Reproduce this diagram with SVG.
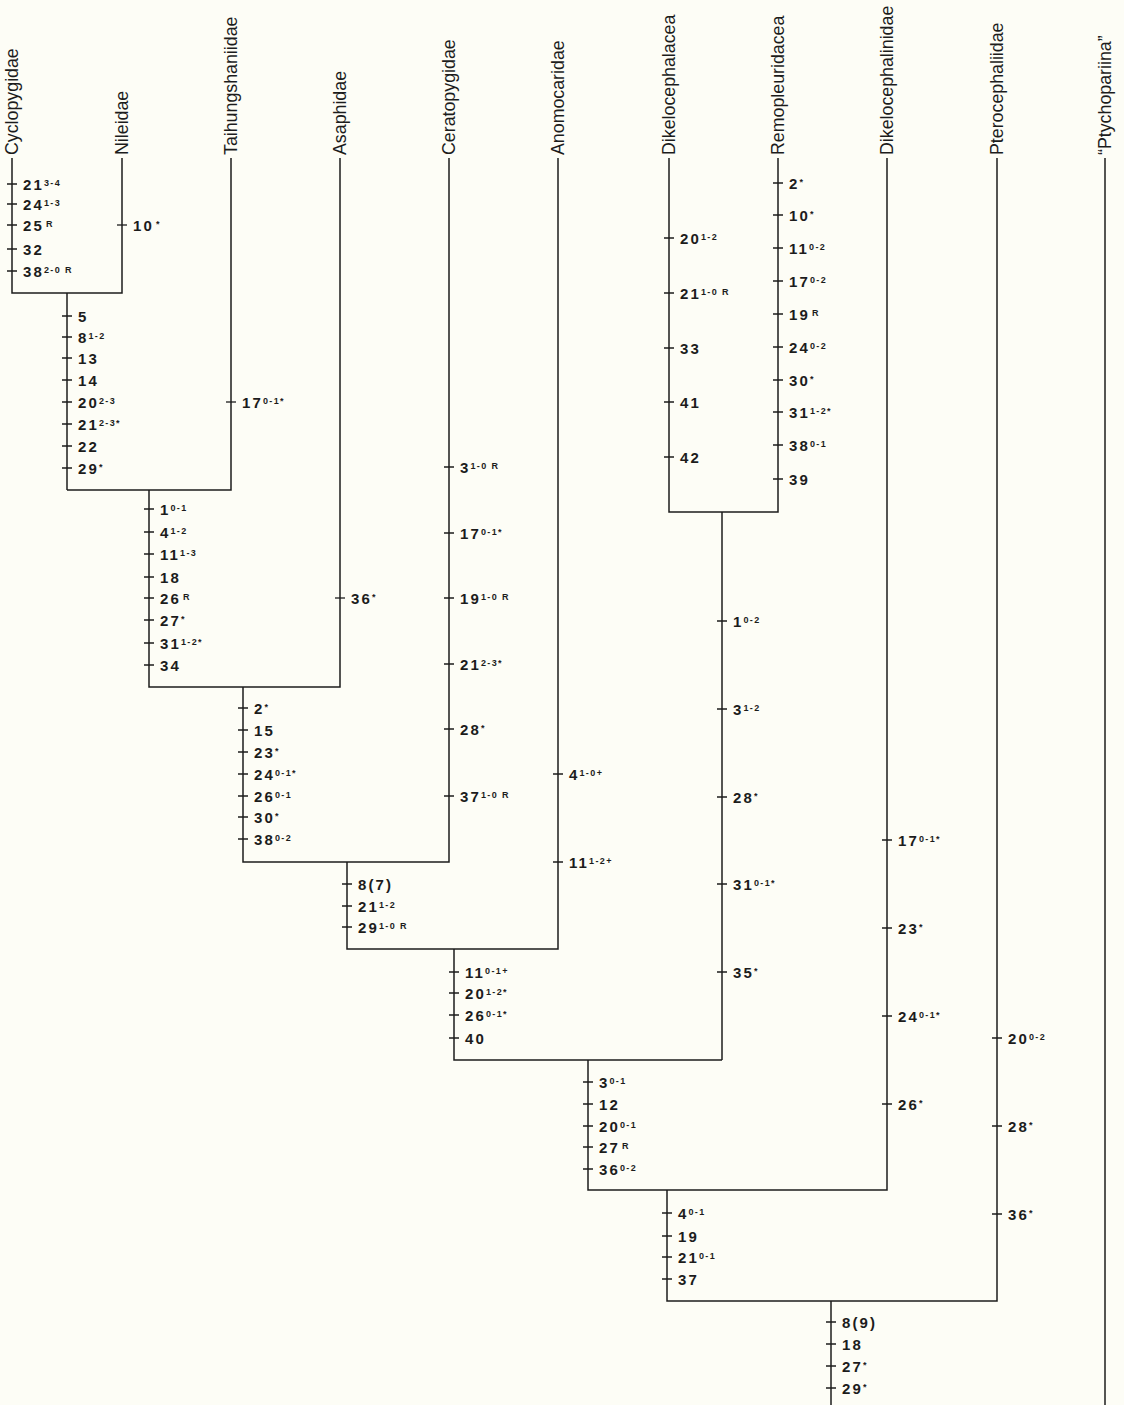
<svg xmlns="http://www.w3.org/2000/svg" width="1124" height="1405" viewBox="0 0 1124 1405">
<style>
.ln{stroke:#1c1c1c;stroke-width:1.5;fill:none}
.tk{stroke:#1c1c1c;stroke-width:1.3;fill:none}
.ch{font-family:"Liberation Sans",Arial,sans-serif;font-weight:bold;font-size:15px;letter-spacing:2.1px;fill:#1c1c1c}
.sp{font-size:9px;letter-spacing:1.4px}
.tx{font-family:"Liberation Sans",Arial,sans-serif;font-size:17.8px;fill:#1c1c1c}
</style>
<rect width="1124" height="1405" fill="#fdfdf6"/>
<g id="connectors" class="ln">
<path d="M12 158V293H122V158"/>
<path d="M67 293V490"/>
<path d="M67 490H231V158"/>
<path d="M149 490V687H340V158"/>
<path d="M243 687V862H449V158"/>
<path d="M347 862V949H558V158"/>
<path d="M669 158V512H778V158"/>
<path d="M722 512V1060"/>
<path d="M454 949V1060H722"/>
<path d="M588 1060V1190H887V158"/>
<path d="M667 1190V1301H997V158"/>
<path d="M831 1301V1405"/>
<path d="M1105 158V1405"/>
</g>
<g id="taxa" class="tx">
<g id="t-cyclopygidae"><text transform="translate(18,155) rotate(-90)">Cyclopygidae</text></g>
<g id="t-nileidae"><text transform="translate(128,155) rotate(-90)">Nileidae</text></g>
<g id="t-taihungshaniidae"><text transform="translate(237,155) rotate(-90)">Taihungshaniidae</text></g>
<g id="t-asaphidae"><text transform="translate(346,155) rotate(-90)">Asaphidae</text></g>
<g id="t-ceratopygidae"><text transform="translate(455,155) rotate(-90)">Ceratopygidae</text></g>
<g id="t-anomocaridae"><text transform="translate(564,155) rotate(-90)">Anomocaridae</text></g>
<g id="t-dikelocephalacea"><text transform="translate(675,155) rotate(-90)">Dikelocephalacea</text></g>
<g id="t-remopleuridacea"><text transform="translate(784,155) rotate(-90)">Remopleuridacea</text></g>
<g id="t-dikelocephalinidae"><text transform="translate(893,155) rotate(-90)">Dikelocephalinidae</text></g>
<g id="t-pterocephaliidae"><text transform="translate(1003,155) rotate(-90)">Pterocephaliidae</text></g>
<g id="t-ptychopariina"><text transform="translate(1111,155) rotate(-90)">“Ptychopariina”</text></g>
</g>
<g id="chars-cyclopygidae">
<path class="tk" d="M7 184h10M7 204h10M7 225h10M7 249h10M7 271h10"/>
<text class="ch" x="23" y="189.5">21<tspan class="sp" dy="-3.5">3-4</tspan></text>
<text class="ch" x="23" y="209.5">24<tspan class="sp" dy="-3.5">1-3</tspan></text>
<text class="ch" x="23" y="230.5">25<tspan class="sp" dy="-3.5" dx="2">R</tspan></text>
<text class="ch" x="23" y="254.5">32</text>
<text class="ch" x="23" y="276.5">38<tspan class="sp" dy="-3.5">2-0 R</tspan></text>
</g>
<g id="chars-nileidae">
<path class="tk" d="M117 225h10"/>
<text class="ch" x="133" y="230.5">10<tspan class="sp" dy="-3.5" dx="2">*</tspan></text>
</g>
<g id="chars-node-a">
<path class="tk" d="M62 316h10M62 337h10M62 358h10M62 380h10M62 402h10M62 424h10M62 446h10M62 468h10"/>
<text class="ch" x="78" y="321.5">5</text>
<text class="ch" x="78" y="342.5">8<tspan class="sp" dy="-3.5">1-2</tspan></text>
<text class="ch" x="78" y="363.5">13</text>
<text class="ch" x="78" y="385.5">14</text>
<text class="ch" x="78" y="407.5">20<tspan class="sp" dy="-3.5">2-3</tspan></text>
<text class="ch" x="78" y="429.5">21<tspan class="sp" dy="-3.5">2-3*</tspan></text>
<text class="ch" x="78" y="451.5">22</text>
<text class="ch" x="78" y="473.5">29<tspan class="sp" dy="-3.5">*</tspan></text>
</g>
<g id="chars-taihungshaniidae">
<path class="tk" d="M226 402h10"/>
<text class="ch" x="242" y="407.5">17<tspan class="sp" dy="-3.5">0-1*</tspan></text>
</g>
<g id="chars-node-b">
<path class="tk" d="M144 509h10M144 532h10M144 554h10M144 577h10M144 598h10M144 620h10M144 643h10M144 665h10"/>
<text class="ch" x="160" y="514.5">1<tspan class="sp" dy="-3.5">0-1</tspan></text>
<text class="ch" x="160" y="537.5">4<tspan class="sp" dy="-3.5">1-2</tspan></text>
<text class="ch" x="160" y="559.5">11<tspan class="sp" dy="-3.5">1-3</tspan></text>
<text class="ch" x="160" y="582.5">18</text>
<text class="ch" x="160" y="603.5">26<tspan class="sp" dy="-3.5" dx="2">R</tspan></text>
<text class="ch" x="160" y="625.5">27<tspan class="sp" dy="-3.5">*</tspan></text>
<text class="ch" x="160" y="648.5">31<tspan class="sp" dy="-3.5">1-2*</tspan></text>
<text class="ch" x="160" y="670.5">34</text>
</g>
<g id="chars-asaphidae">
<path class="tk" d="M335 598h10"/>
<text class="ch" x="351" y="603.5">36<tspan class="sp" dy="-3.5">*</tspan></text>
</g>
<g id="chars-node-c">
<path class="tk" d="M238 708h10M238 730h10M238 752h10M238 774h10M238 796h10M238 817h10M238 839h10"/>
<text class="ch" x="254" y="713.5">2<tspan class="sp" dy="-3.5">*</tspan></text>
<text class="ch" x="254" y="735.5">15</text>
<text class="ch" x="254" y="757.5">23<tspan class="sp" dy="-3.5">*</tspan></text>
<text class="ch" x="254" y="779.5">24<tspan class="sp" dy="-3.5">0-1*</tspan></text>
<text class="ch" x="254" y="801.5">26<tspan class="sp" dy="-3.5">0-1</tspan></text>
<text class="ch" x="254" y="822.5">30<tspan class="sp" dy="-3.5">*</tspan></text>
<text class="ch" x="254" y="844.5">38<tspan class="sp" dy="-3.5">0-2</tspan></text>
</g>
<g id="chars-ceratopygidae">
<path class="tk" d="M444 467h10M444 533h10M444 598h10M444 664h10M444 729h10M444 796h10"/>
<text class="ch" x="460" y="472.5">3<tspan class="sp" dy="-3.5">1-0 R</tspan></text>
<text class="ch" x="460" y="538.5">17<tspan class="sp" dy="-3.5">0-1*</tspan></text>
<text class="ch" x="460" y="603.5">19<tspan class="sp" dy="-3.5">1-0 R</tspan></text>
<text class="ch" x="460" y="669.5">21<tspan class="sp" dy="-3.5">2-3*</tspan></text>
<text class="ch" x="460" y="734.5">28<tspan class="sp" dy="-3.5">*</tspan></text>
<text class="ch" x="460" y="801.5">37<tspan class="sp" dy="-3.5">1-0 R</tspan></text>
</g>
<g id="chars-node-d">
<path class="tk" d="M342 884h10M342 906h10M342 927h10"/>
<text class="ch" x="358" y="889.5">8(7)</text>
<text class="ch" x="358" y="911.5">21<tspan class="sp" dy="-3.5">1-2</tspan></text>
<text class="ch" x="358" y="932.5">29<tspan class="sp" dy="-3.5">1-0 R</tspan></text>
</g>
<g id="chars-anomocaridae">
<path class="tk" d="M553 774h10M553 862h10"/>
<text class="ch" x="569" y="779.5">4<tspan class="sp" dy="-3.5">1-0+</tspan></text>
<text class="ch" x="569" y="867.5">11<tspan class="sp" dy="-3.5">1-2+</tspan></text>
</g>
<g id="chars-node-e">
<path class="tk" d="M449 972h10M449 993h10M449 1015h10M449 1038h10"/>
<text class="ch" x="465" y="977.5">11<tspan class="sp" dy="-3.5">0-1+</tspan></text>
<text class="ch" x="465" y="998.5">20<tspan class="sp" dy="-3.5">1-2*</tspan></text>
<text class="ch" x="465" y="1020.5">26<tspan class="sp" dy="-3.5">0-1*</tspan></text>
<text class="ch" x="465" y="1043.5">40</text>
</g>
<g id="chars-dikelocephalacea">
<path class="tk" d="M664 238h10M664 293h10M664 348h10M664 402h10M664 457h10"/>
<text class="ch" x="680" y="243.5">20<tspan class="sp" dy="-3.5">1-2</tspan></text>
<text class="ch" x="680" y="298.5">21<tspan class="sp" dy="-3.5">1-0 R</tspan></text>
<text class="ch" x="680" y="353.5">33</text>
<text class="ch" x="680" y="407.5">41</text>
<text class="ch" x="680" y="462.5">42</text>
</g>
<g id="chars-remopleuridacea">
<path class="tk" d="M773 183h10M773 215h10M773 248h10M773 281h10M773 314h10M773 347h10M773 380h10M773 412h10M773 445h10M773 479h10"/>
<text class="ch" x="789" y="188.5">2<tspan class="sp" dy="-3.5">*</tspan></text>
<text class="ch" x="789" y="220.5">10<tspan class="sp" dy="-3.5">*</tspan></text>
<text class="ch" x="789" y="253.5">11<tspan class="sp" dy="-3.5">0-2</tspan></text>
<text class="ch" x="789" y="286.5">17<tspan class="sp" dy="-3.5">0-2</tspan></text>
<text class="ch" x="789" y="319.5">19<tspan class="sp" dy="-3.5" dx="2">R</tspan></text>
<text class="ch" x="789" y="352.5">24<tspan class="sp" dy="-3.5">0-2</tspan></text>
<text class="ch" x="789" y="385.5">30<tspan class="sp" dy="-3.5">*</tspan></text>
<text class="ch" x="789" y="417.5">31<tspan class="sp" dy="-3.5">1-2*</tspan></text>
<text class="ch" x="789" y="450.5">38<tspan class="sp" dy="-3.5">0-1</tspan></text>
<text class="ch" x="789" y="484.5">39</text>
</g>
<g id="chars-node-f">
<path class="tk" d="M717 621h10M717 709h10M717 797h10M717 884h10M717 972h10"/>
<text class="ch" x="733" y="626.5">1<tspan class="sp" dy="-3.5">0-2</tspan></text>
<text class="ch" x="733" y="714.5">3<tspan class="sp" dy="-3.5">1-2</tspan></text>
<text class="ch" x="733" y="802.5">28<tspan class="sp" dy="-3.5">*</tspan></text>
<text class="ch" x="733" y="889.5">31<tspan class="sp" dy="-3.5">0-1*</tspan></text>
<text class="ch" x="733" y="977.5">35<tspan class="sp" dy="-3.5">*</tspan></text>
</g>
<g id="chars-node-g">
<path class="tk" d="M583 1082h10M583 1104h10M583 1126h10M583 1147h10M583 1169h10"/>
<text class="ch" x="599" y="1087.5">3<tspan class="sp" dy="-3.5">0-1</tspan></text>
<text class="ch" x="599" y="1109.5">12</text>
<text class="ch" x="599" y="1131.5">20<tspan class="sp" dy="-3.5">0-1</tspan></text>
<text class="ch" x="599" y="1152.5">27<tspan class="sp" dy="-3.5" dx="2">R</tspan></text>
<text class="ch" x="599" y="1174.5">36<tspan class="sp" dy="-3.5">0-2</tspan></text>
</g>
<g id="chars-dikelocephalinidae">
<path class="tk" d="M882 840h10M882 928h10M882 1016h10M882 1104h10"/>
<text class="ch" x="898" y="845.5">17<tspan class="sp" dy="-3.5">0-1*</tspan></text>
<text class="ch" x="898" y="933.5">23<tspan class="sp" dy="-3.5">*</tspan></text>
<text class="ch" x="898" y="1021.5">24<tspan class="sp" dy="-3.5">0-1*</tspan></text>
<text class="ch" x="898" y="1109.5">26<tspan class="sp" dy="-3.5">*</tspan></text>
</g>
<g id="chars-node-h">
<path class="tk" d="M662 1213h10M662 1236h10M662 1257h10M662 1279h10"/>
<text class="ch" x="678" y="1218.5">4<tspan class="sp" dy="-3.5">0-1</tspan></text>
<text class="ch" x="678" y="1241.5">19</text>
<text class="ch" x="678" y="1262.5">21<tspan class="sp" dy="-3.5">0-1</tspan></text>
<text class="ch" x="678" y="1284.5">37</text>
</g>
<g id="chars-pterocephaliidae">
<path class="tk" d="M992 1038h10M992 1126h10M992 1214h10"/>
<text class="ch" x="1008" y="1043.5">20<tspan class="sp" dy="-3.5">0-2</tspan></text>
<text class="ch" x="1008" y="1131.5">28<tspan class="sp" dy="-3.5">*</tspan></text>
<text class="ch" x="1008" y="1219.5">36<tspan class="sp" dy="-3.5">*</tspan></text>
</g>
<g id="chars-node-i">
<path class="tk" d="M826 1322h10M826 1344h10M826 1366h10M826 1388h10"/>
<text class="ch" x="842" y="1327.5">8(9)</text>
<text class="ch" x="842" y="1349.5">18</text>
<text class="ch" x="842" y="1371.5">27<tspan class="sp" dy="-3.5">*</tspan></text>
<text class="ch" x="842" y="1393.5">29<tspan class="sp" dy="-3.5">*</tspan></text>
</g>
</svg>
